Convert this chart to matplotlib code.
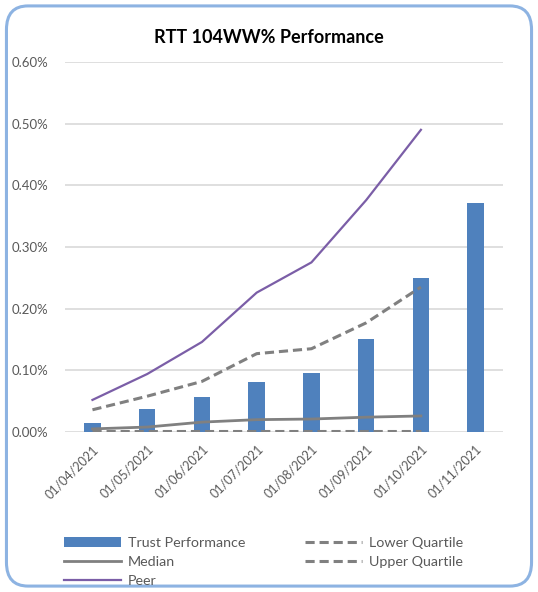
import numpy as np
import matplotlib.pyplot as plt
from matplotlib.ticker import PercentFormatter
from matplotlib.patches import FancyBboxPatch

plt.rcParams['font.family'] = ['Lato', 'DejaVu Sans']

dates = ['01/04/2021', '01/05/2021', '01/06/2021', '01/07/2021',
         '01/08/2021', '01/09/2021', '01/10/2021', '01/11/2021']
trust = [0.015, 0.037, 0.057, 0.081, 0.096, 0.151, 0.250, 0.371]
median = [0.005, 0.008, 0.016, 0.020, 0.021, 0.024, 0.026]
lower_q = [0.001, 0.001, 0.001, 0.001, 0.001, 0.001, 0.001]
upper_q = [0.036, 0.058, 0.082, 0.127, 0.135, 0.177, 0.235]
peer = [0.052, 0.094, 0.146, 0.226, 0.275, 0.376, 0.490]

fig = plt.figure(figsize=(5.38, 5.92), dpi=100)
ax = fig.add_axes([0.121, 0.2703, 0.814, 0.625])

x = np.arange(len(dates))
xl = x[:len(peer)]

b = ax.bar(x, trust, width=0.3, color='#4f81bd', label='Trust Performance', zorder=2)
m, = ax.plot(xl, median, color='#808080', lw=2, label='Median', zorder=3)
p, = ax.plot(xl, peer, color='#7b5ea7', lw=1.6, label='Peer', zorder=3)
lq, = ax.plot(xl, lower_q, color='#808080', lw=2.2, ls=(0, (3, 1.6)), label='Lower Quartile', zorder=3)
uq, = ax.plot(xl, upper_q, color='#808080', lw=2.2, ls=(0, (3, 1.6)), label='Upper Quartile', zorder=3)

ax.set_xlim(-0.5, len(dates) - 0.5)
ax.set_ylim(0, 0.6)
ax.set_yticks(np.arange(0, 0.61, 0.1))
ax.yaxis.set_major_formatter(PercentFormatter(xmax=100, decimals=2))
ax.set_xticks(x)
ax.set_xticklabels(dates, rotation=45, ha='right', rotation_mode='anchor')
ax.tick_params(length=0, labelcolor='#595959')
ax.tick_params(axis='x', pad=8, labelsize=9)
ax.tick_params(axis='y', pad=12, labelsize=9.5)
ax.grid(axis='y', color='#d9d9d9', lw=1.2, zorder=0)
ax.set_axisbelow(True)
for s in ax.spines.values():
    s.set_visible(False)

fig.text(0.5, 0.937, 'RTT 104WW% Performance', ha='center', va='center',
         fontsize=13, fontweight='bold', color='black')

fig.legend([b, m, p, lq, uq],
           ['Trust Performance', 'Median', 'Peer', 'Lower Quartile', 'Upper Quartile'],
           ncol=2, loc='upper left', bbox_to_anchor=(0.095, 1 - 524 / 592),
           frameon=False, fontsize=10.3, labelcolor='#595959',
           handlelength=4.0, handletextpad=0.45, columnspacing=4.2,
           labelspacing=0.5)

border = FancyBboxPatch((0.012, 0.01), 0.976, 0.98, transform=fig.transFigure,
                        boxstyle='round,pad=0,rounding_size=0.04',
                        fill=False, ec='#8db3e2', lw=2.2)
fig.patches.append(border)

fig.savefig('out.png', dpi=100)
